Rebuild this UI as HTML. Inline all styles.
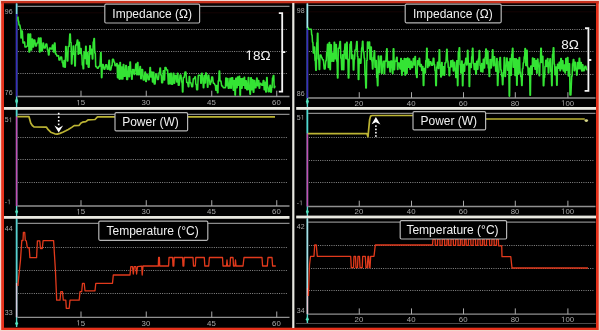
<!DOCTYPE html>
<html><head><meta charset="utf-8"><title>Impedance / Power / Temperature</title>
<style>
html,body{margin:0;padding:0;background:#000;width:600px;height:331px;overflow:hidden}
svg{will-change:transform}
svg text{font-family:"Liberation Sans",sans-serif}
.ax{fill:#a8a8a8}
.tt{font-size:12px;fill:#f0f0f0}
.big{font-size:13.5px;fill:#f4f4f4}
</style></head><body>
<svg width="600" height="331" viewBox="0 0 600 331" style="display:block">
<rect x="0" y="0" width="600" height="331" fill="#f4d6cf"/>
<rect x="1.2" y="1" width="597.5" height="329" fill="#e6321c"/>
<rect x="1.2" y="1" width="597.5" height="2.6" fill="#c8321e"/>
<rect x="4" y="3.5" width="592" height="324.2" fill="#000"/>
<rect x="4" y="3.5" width="592" height="1.2" fill="#120505"/>
<line x1="17.400000000000002" y1="6.3" x2="289.5" y2="6.3" stroke="#8a8a8a" stroke-width="1.2"/>
<line x1="18.1" y1="29.50" x2="287.5" y2="29.50" stroke="#8a8a8a" stroke-width="1" stroke-dasharray="1 1.25"/>
<line x1="18.1" y1="51.50" x2="287.5" y2="51.50" stroke="#8a8a8a" stroke-width="1" stroke-dasharray="1 1.25"/>
<line x1="18.1" y1="73.50" x2="287.5" y2="73.50" stroke="#8a8a8a" stroke-width="1" stroke-dasharray="1 1.25"/>
<line x1="17.400000000000002" y1="96.5" x2="289.5" y2="96.5" stroke="#909090" stroke-width="1.3"/>
<line x1="81" y1="90.7" x2="81" y2="96.5" stroke="#a8a8a8" stroke-width="1"/>
<text x="76.36" y="105.3" class="ax" font-size="7.8"> 5</text><path d="M78.32 105.30 L79.01 105.30 L79.01 99.93 L78.38 99.93 L77.11 100.81 L77.11 101.45 L78.32 100.59 Z" class="ax"/>
<line x1="146.25" y1="90.7" x2="146.25" y2="96.5" stroke="#a8a8a8" stroke-width="1"/>
<text x="141.61" y="105.3" class="ax" font-size="7.8">30</text>
<line x1="211.75" y1="90.7" x2="211.75" y2="96.5" stroke="#a8a8a8" stroke-width="1"/>
<text x="207.11" y="105.3" class="ax" font-size="7.8">45</text>
<line x1="276.75" y1="90.7" x2="276.75" y2="96.5" stroke="#a8a8a8" stroke-width="1"/>
<text x="272.11" y="105.3" class="ax" font-size="7.8">60</text>
<text x="4.80" y="13.5" class="ax" font-size="7">96</text>
<text x="4.80" y="95.4" class="ax" font-size="7">76</text>
<line x1="17.400000000000002" y1="114.4" x2="289.5" y2="114.4" stroke="#8a8a8a" stroke-width="1.2"/>
<line x1="18.1" y1="137.50" x2="287.5" y2="137.50" stroke="#8a8a8a" stroke-width="1" stroke-dasharray="1 1.25"/>
<line x1="18.1" y1="159.50" x2="287.5" y2="159.50" stroke="#8a8a8a" stroke-width="1" stroke-dasharray="1 1.25"/>
<line x1="18.1" y1="182.50" x2="287.5" y2="182.50" stroke="#8a8a8a" stroke-width="1" stroke-dasharray="1 1.25"/>
<line x1="17.400000000000002" y1="206" x2="289.5" y2="206" stroke="#909090" stroke-width="1.3"/>
<line x1="81" y1="200.2" x2="81" y2="206" stroke="#a8a8a8" stroke-width="1"/>
<text x="76.36" y="214.39999999999998" class="ax" font-size="7.8"> 5</text><path d="M78.32 214.40 L79.01 214.40 L79.01 209.03 L78.38 209.03 L77.11 209.91 L77.11 210.55 L78.32 209.69 Z" class="ax"/>
<line x1="146.25" y1="200.2" x2="146.25" y2="206" stroke="#a8a8a8" stroke-width="1"/>
<text x="141.61" y="214.39999999999998" class="ax" font-size="7.8">30</text>
<line x1="211.75" y1="200.2" x2="211.75" y2="206" stroke="#a8a8a8" stroke-width="1"/>
<text x="207.11" y="214.39999999999998" class="ax" font-size="7.8">45</text>
<line x1="276.75" y1="200.2" x2="276.75" y2="206" stroke="#a8a8a8" stroke-width="1"/>
<text x="272.11" y="214.39999999999998" class="ax" font-size="7.8">60</text>
<text x="4.80" y="122.2" class="ax" font-size="7">5 </text><path d="M10.45 122.20 L11.07 122.20 L11.07 117.38 L10.50 117.38 L9.37 118.17 L9.37 118.75 L10.45 117.97 Z" class="ax"/>
<text x="4.80" y="204.2" class="ax" font-size="7">- </text><path d="M8.89 204.20 L9.51 204.20 L9.51 199.38 L8.94 199.38 L7.80 200.17 L7.80 200.75 L8.89 199.97 Z" class="ax"/>
<line x1="17.400000000000002" y1="223.4" x2="289.5" y2="223.4" stroke="#8a8a8a" stroke-width="1.2"/>
<line x1="18.1" y1="247.50" x2="287.5" y2="247.50" stroke="#8a8a8a" stroke-width="1" stroke-dasharray="1 1.25"/>
<line x1="18.1" y1="270.50" x2="287.5" y2="270.50" stroke="#8a8a8a" stroke-width="1" stroke-dasharray="1 1.25"/>
<line x1="18.1" y1="293.50" x2="287.5" y2="293.50" stroke="#8a8a8a" stroke-width="1" stroke-dasharray="1 1.25"/>
<line x1="17.400000000000002" y1="317.3" x2="289.5" y2="317.3" stroke="#909090" stroke-width="1.3"/>
<line x1="81" y1="311.5" x2="81" y2="317.3" stroke="#a8a8a8" stroke-width="1"/>
<text x="76.36" y="325.5" class="ax" font-size="7.8"> 5</text><path d="M78.32 325.50 L79.01 325.50 L79.01 320.13 L78.38 320.13 L77.11 321.01 L77.11 321.65 L78.32 320.79 Z" class="ax"/>
<line x1="146.25" y1="311.5" x2="146.25" y2="317.3" stroke="#a8a8a8" stroke-width="1"/>
<text x="141.61" y="325.5" class="ax" font-size="7.8">30</text>
<line x1="211.75" y1="311.5" x2="211.75" y2="317.3" stroke="#a8a8a8" stroke-width="1"/>
<text x="207.11" y="325.5" class="ax" font-size="7.8">45</text>
<line x1="276.75" y1="311.5" x2="276.75" y2="317.3" stroke="#a8a8a8" stroke-width="1"/>
<text x="272.11" y="325.5" class="ax" font-size="7.8">60</text>
<text x="4.80" y="230.6" class="ax" font-size="7">44</text>
<text x="4.80" y="315.2" class="ax" font-size="7">33</text>
<line x1="308.2" y1="5.5" x2="595.5" y2="5.5" stroke="#8a8a8a" stroke-width="1.2"/>
<line x1="308.9" y1="29.50" x2="593.5" y2="29.50" stroke="#8a8a8a" stroke-width="1" stroke-dasharray="1 1.25"/>
<line x1="308.9" y1="51.50" x2="593.5" y2="51.50" stroke="#8a8a8a" stroke-width="1" stroke-dasharray="1 1.25"/>
<line x1="308.9" y1="74.50" x2="593.5" y2="74.50" stroke="#8a8a8a" stroke-width="1" stroke-dasharray="1 1.25"/>
<line x1="308.2" y1="98" x2="595.5" y2="98" stroke="#909090" stroke-width="1.3"/>
<line x1="359.25" y1="92.2" x2="359.25" y2="98" stroke="#a8a8a8" stroke-width="1"/>
<text x="354.61" y="105.7" class="ax" font-size="7.8">20</text>
<line x1="411.5" y1="92.2" x2="411.5" y2="98" stroke="#a8a8a8" stroke-width="1"/>
<text x="406.86" y="105.7" class="ax" font-size="7.8">40</text>
<line x1="463.5" y1="92.2" x2="463.5" y2="98" stroke="#a8a8a8" stroke-width="1"/>
<text x="458.86" y="105.7" class="ax" font-size="7.8">60</text>
<line x1="515.3" y1="92.2" x2="515.3" y2="98" stroke="#a8a8a8" stroke-width="1"/>
<text x="510.66" y="105.7" class="ax" font-size="7.8">80</text>
<line x1="567.9" y1="92.2" x2="567.9" y2="98" stroke="#a8a8a8" stroke-width="1"/>
<text x="561.09" y="105.7" class="ax" font-size="7.8"> 00</text><path d="M563.05 105.70 L563.74 105.70 L563.74 100.33 L563.11 100.33 L561.84 101.21 L561.84 101.85 L563.05 100.99 Z" class="ax"/>
<text x="296.80" y="12.6" class="ax" font-size="7">98</text>
<text x="296.80" y="95.6" class="ax" font-size="7">86</text>
<line x1="308.2" y1="113.4" x2="595.5" y2="113.4" stroke="#8a8a8a" stroke-width="1.2"/>
<line x1="308.9" y1="137.50" x2="593.5" y2="137.50" stroke="#8a8a8a" stroke-width="1" stroke-dasharray="1 1.25"/>
<line x1="308.9" y1="160.50" x2="593.5" y2="160.50" stroke="#8a8a8a" stroke-width="1" stroke-dasharray="1 1.25"/>
<line x1="308.9" y1="182.50" x2="593.5" y2="182.50" stroke="#8a8a8a" stroke-width="1" stroke-dasharray="1 1.25"/>
<line x1="308.2" y1="206.5" x2="595.5" y2="206.5" stroke="#909090" stroke-width="1.3"/>
<line x1="359.25" y1="200.7" x2="359.25" y2="206.5" stroke="#a8a8a8" stroke-width="1"/>
<text x="354.61" y="213.89999999999998" class="ax" font-size="7.8">20</text>
<line x1="411.5" y1="200.7" x2="411.5" y2="206.5" stroke="#a8a8a8" stroke-width="1"/>
<text x="406.86" y="213.89999999999998" class="ax" font-size="7.8">40</text>
<line x1="463.5" y1="200.7" x2="463.5" y2="206.5" stroke="#a8a8a8" stroke-width="1"/>
<text x="458.86" y="213.89999999999998" class="ax" font-size="7.8">60</text>
<line x1="515.3" y1="200.7" x2="515.3" y2="206.5" stroke="#a8a8a8" stroke-width="1"/>
<text x="510.66" y="213.89999999999998" class="ax" font-size="7.8">80</text>
<line x1="567.9" y1="200.7" x2="567.9" y2="206.5" stroke="#a8a8a8" stroke-width="1"/>
<text x="561.09" y="213.89999999999998" class="ax" font-size="7.8"> 00</text><path d="M563.05 213.90 L563.74 213.90 L563.74 208.53 L563.11 208.53 L561.84 209.41 L561.84 210.05 L563.05 209.19 Z" class="ax"/>
<text x="296.80" y="119.8" class="ax" font-size="7">5 </text><path d="M302.45 119.80 L303.07 119.80 L303.07 114.98 L302.50 114.98 L301.37 115.77 L301.37 116.35 L302.45 115.57 Z" class="ax"/>
<text x="296.80" y="205.2" class="ax" font-size="7">- </text><path d="M300.89 205.20 L301.51 205.20 L301.51 200.38 L300.94 200.38 L299.80 201.17 L299.80 201.75 L300.89 200.97 Z" class="ax"/>
<line x1="308.2" y1="222.2" x2="595.5" y2="222.2" stroke="#8a8a8a" stroke-width="1.2"/>
<line x1="308.9" y1="245.50" x2="593.5" y2="245.50" stroke="#8a8a8a" stroke-width="1" stroke-dasharray="1 1.25"/>
<line x1="308.9" y1="268.50" x2="593.5" y2="268.50" stroke="#8a8a8a" stroke-width="1" stroke-dasharray="1 1.25"/>
<line x1="308.9" y1="290.50" x2="593.5" y2="290.50" stroke="#8a8a8a" stroke-width="1" stroke-dasharray="1 1.25"/>
<line x1="308.2" y1="314.2" x2="595.5" y2="314.2" stroke="#909090" stroke-width="1.3"/>
<line x1="359.25" y1="308.4" x2="359.25" y2="314.2" stroke="#a8a8a8" stroke-width="1"/>
<text x="354.61" y="322.0" class="ax" font-size="7.8">20</text>
<line x1="411.5" y1="308.4" x2="411.5" y2="314.2" stroke="#a8a8a8" stroke-width="1"/>
<text x="406.86" y="322.0" class="ax" font-size="7.8">40</text>
<line x1="463.5" y1="308.4" x2="463.5" y2="314.2" stroke="#a8a8a8" stroke-width="1"/>
<text x="458.86" y="322.0" class="ax" font-size="7.8">60</text>
<line x1="515.3" y1="308.4" x2="515.3" y2="314.2" stroke="#a8a8a8" stroke-width="1"/>
<text x="510.66" y="322.0" class="ax" font-size="7.8">80</text>
<line x1="567.9" y1="308.4" x2="567.9" y2="314.2" stroke="#a8a8a8" stroke-width="1"/>
<text x="561.09" y="322.0" class="ax" font-size="7.8"> 00</text><path d="M563.05 322.00 L563.74 322.00 L563.74 316.63 L563.11 316.63 L561.84 317.51 L561.84 318.15 L563.05 317.29 Z" class="ax"/>
<text x="296.80" y="228.6" class="ax" font-size="7">42</text>
<text x="296.80" y="312.8" class="ax" font-size="7">34</text>
<line x1="18" y1="12.8" x2="289.5" y2="12.8" stroke="#140404" stroke-width="1"/>
<line x1="309" y1="11.8" x2="595.5" y2="11.8" stroke="#140404" stroke-width="1"/>
<line x1="16.6" y1="3.4" x2="16.6" y2="327" stroke="#58d8d0" stroke-width="1.4"/>
<line x1="307.4" y1="3.4" x2="307.4" y2="323.6" stroke="#58d8d0" stroke-width="1.4"/>
<line x1="16.6" y1="3.5" x2="16.6" y2="14" stroke="#7fd8e8" stroke-width="1.6"/>
<line x1="16.6" y1="14" x2="16.6" y2="96.5" stroke="#3c2cbc" stroke-width="1.6"/>
<line x1="16.6" y1="110" x2="16.6" y2="116.5" stroke="#50d8d0" stroke-width="1.6"/>
<line x1="16.6" y1="116.5" x2="16.6" y2="206" stroke="#c450b4" stroke-width="1.6"/>
<line x1="16.6" y1="219" x2="16.6" y2="283" stroke="#58d0d0" stroke-width="1.6"/>
<line x1="16.6" y1="283" x2="16.6" y2="317.3" stroke="#d4cce0" stroke-width="1.6"/>
<line x1="307.4" y1="3.5" x2="307.4" y2="28" stroke="#a8e8f0" stroke-width="1.6"/>
<line x1="307.4" y1="28" x2="307.4" y2="98" stroke="#3c2cbc" stroke-width="1.6"/>
<line x1="307.4" y1="110" x2="307.4" y2="133.4" stroke="#50d8d0" stroke-width="1.6"/>
<line x1="307.4" y1="133.4" x2="307.4" y2="206.5" stroke="#c450b4" stroke-width="1.6"/>
<line x1="307.4" y1="219" x2="307.4" y2="288" stroke="#a8e0e8" stroke-width="1.6"/>
<line x1="307.4" y1="288" x2="307.4" y2="314.2" stroke="#e8c8d4" stroke-width="1.6"/>
<path d="M16.6 96.7 L18.1 101 L16.6 105.3 L15.100000000000001 101 Z" fill="#54e4c0"/>
<path d="M16.6 208.8 L18.1 211.8 L16.6 214.8 L15.100000000000001 211.8 Z" fill="#54e4c0"/>
<path d="M16.6 320.6 L18.1 323.6 L16.6 326.6 L15.100000000000001 323.6 Z" fill="#54e4c0"/>
<path d="M307.4 97.8 L308.9 101.6 L307.4 105.39999999999999 L305.9 101.6 Z" fill="#54e4c0"/>
<path d="M307.4 208.8 L308.9 211.8 L307.4 214.8 L305.9 211.8 Z" fill="#54e4c0"/>
<path d="M307.4 316.3 L308.9 319.3 L307.4 322.3 L305.9 319.3 Z" fill="#54e4c0"/>
<rect x="4" y="107" width="286" height="2.8" fill="#e8e8e0"/>
<rect x="296.2" y="107" width="299.8" height="2.8" fill="#e8e8e0"/>
<rect x="4" y="216" width="285.5" height="2.8" fill="#e8e8e0"/>
<rect x="296.2" y="215.6" width="299.8" height="2.8" fill="#e8e8e0"/>
<rect x="292.2" y="3" width="2.2" height="325" fill="#e8e8e0"/>
<line x1="296" y1="323.5" x2="596" y2="323.5" stroke="#4a4a4a" stroke-width="1"/>
<polyline points="17.6,17.0 17.9,17.0 18.2,21.0 18.6,21.0 19.0,25.0 19.8,25.0 20.5,29.0 20.8,29.0 21.0,38.0 21.3,38.0 21.5,31.0 22.3,31.0 23.0,43.0 23.6,43.0 24.0,42.0 24.6,42.0 25.0,47.0 26.1,47.0 27.0,46.0 27.6,46.0 28.0,34.0 28.6,34.0 29.0,52.0 29.6,52.0 30.0,34.0 30.6,34.0 31.0,50.0 31.6,50.0 32.0,39.0 32.5,39.0 33.0,47.0 33.5,47.0 34.0,40.0 34.8,40.0 35.5,46.0 36.3,46.0 37.0,43.0 37.8,43.0 38.5,38.0 39.0,38.0 39.5,52.0 40.0,52.0 40.5,38.0 41.0,38.0 41.5,51.0 42.3,51.0 43.0,43.0 43.5,43.0 44.0,48.0 45.1,48.0 46.0,44.0 46.8,44.0 47.5,50.0 48.0,50.0 48.5,55.0 49.0,55.0 49.5,48.0 50.3,48.0 51.0,49.0 51.8,49.0 52.5,45.0 53.0,45.0 53.5,52.0 54.0,52.0 54.5,43.0 55.0,43.0 55.5,54.0 56.3,54.0 57.0,56.0 57.7,56.0 58.2,55.8 58.6,55.8 59.0,60.0 59.9,60.0 60.7,57.0 61.6,57.0 62.3,62.7 62.8,62.7 63.2,66.7 63.6,66.7 64.0,60.6 64.4,60.6 64.8,67.2 65.3,67.2 65.7,46.6 66.1,46.6 66.5,52.7 66.9,52.7 67.3,61.0 67.8,61.0 68.2,46.5 69.1,46.5 69.8,34.1 70.3,34.1 70.7,42.5 71.1,42.5 71.5,64.0 71.9,64.0 72.3,54.4 72.8,54.4 73.2,46.0 73.6,46.0 74.0,54.2 74.4,54.2 74.8,65.9 75.3,65.9 75.7,45.0 76.6,45.0 77.3,39.9 77.8,39.9 78.2,54.3 78.6,54.3 79.0,42.3 79.4,42.3 79.8,53.3 80.3,53.3 80.7,48.5 81.1,48.5 81.5,55.0 81.9,55.0 82.3,64.9 82.8,64.9 83.2,68.8 83.6,68.8 84.0,51.9 84.4,51.9 84.8,58.5 85.3,58.5 85.7,46.3 86.1,46.3 86.5,64.0 86.9,64.0 87.3,52.5 87.8,52.5 88.2,67.1 89.1,67.1 89.8,45.8 90.3,45.8 90.7,54.0 91.1,54.0 91.5,49.3 91.9,49.3 92.3,59.0 92.8,59.0 93.2,42.0 93.6,42.0 94.0,38.6 94.4,38.6 94.8,53.1 95.3,53.1 95.7,66.6 96.6,66.6 97.3,68.2 98.2,68.2 99.0,66.2 99.9,66.2 100.7,52.6 101.1,52.6 101.5,77.6 101.9,77.6 102.3,64.6 103.2,64.6 104.0,69.2 104.9,69.2 105.7,64.7 106.6,64.7 107.3,69.2 108.2,69.2 109.0,60.3 109.4,60.3 109.8,69.9 110.8,69.9 111.7,65.4 112.1,65.4 112.5,59.3 113.4,59.3 114.2,62.2 114.6,62.2 115.0,65.7 115.9,65.7 116.7,63.6 117.1,63.6 117.5,77.6 117.9,77.6 118.3,65.3 118.8,65.3 119.2,79.1 119.6,79.1 120.0,62.4 120.4,62.4 120.8,78.9 121.3,78.9 121.7,66.9 122.1,66.9 122.5,79.0 122.9,79.0 123.3,64.5 123.8,64.5 124.2,76.1 125.1,76.1 125.8,65.4 126.3,65.4 126.7,79.4 127.6,79.4 128.3,66.8 128.8,66.8 129.2,76.6 129.6,76.6 130.0,61.9 130.4,61.9 130.8,71.8 131.3,71.8 131.7,79.2 132.1,79.2 132.5,69.6 133.4,69.6 134.2,74.5 134.6,74.5 135.0,69.6 135.4,69.6 135.8,63.9 136.3,63.9 136.7,74.8 137.1,74.8 137.5,62.4 137.9,62.4 138.3,74.6 139.2,74.6 140.0,66.5 140.4,66.5 140.8,78.8 141.3,78.8 141.7,69.6 142.6,69.6 143.3,80.0 144.2,80.0 145.0,72.1 145.4,72.1 145.8,81.4 146.3,81.4 146.7,74.6 147.6,74.6 148.3,79.7 149.2,79.7 150.0,67.6 150.4,67.6 150.8,76.9 151.3,76.9 151.7,72.0 152.1,72.0 152.5,81.9 152.9,81.9 153.3,72.2 153.8,72.2 154.2,83.9 155.1,83.9 155.8,74.1 156.7,74.1 157.5,79.5 158.4,79.5 159.2,72.4 159.6,72.4 160.0,67.9 160.4,67.9 160.8,74.9 161.3,74.9 161.7,82.7 162.6,82.7 163.3,70.7 163.8,70.7 164.2,80.0 164.6,80.0 165.0,67.5 165.9,67.5 166.7,69.9 167.6,69.9 168.3,83.9 168.8,83.9 169.2,73.7 169.6,73.7 170.0,83.6 170.4,83.6 170.8,73.2 171.3,73.2 171.7,84.2 172.6,84.2 173.3,73.2 173.8,73.2 174.2,83.3 174.6,83.3 175.0,75.5 175.9,75.5 176.7,81.9 177.1,81.9 177.5,73.2 177.9,73.2 178.3,85.2 179.2,85.2 180.0,75.0 180.9,75.0 181.7,82.2 182.1,82.2 182.5,92.0 182.9,92.0 183.3,77.4 184.2,77.4 185.0,72.0 185.9,72.0 186.7,82.4 187.6,82.4 188.3,86.7 188.8,86.7 189.2,76.4 189.6,76.4 190.0,82.7 190.9,82.7 191.7,86.6 192.6,86.6 193.3,78.8 194.2,78.8 195.0,76.8 195.4,76.8 195.8,84.3 196.3,84.3 196.7,89.6 197.6,89.6 198.3,75.3 199.2,75.3 200.0,75.2 200.4,75.2 200.8,83.1 201.3,83.1 201.7,73.2 202.1,73.2 202.5,78.1 202.9,78.1 203.3,87.8 203.8,87.8 204.2,75.4 204.6,75.4 205.0,82.9 205.4,82.9 205.8,72.9 206.3,72.9 206.7,77.4 207.1,77.4 207.5,87.3 207.9,87.3 208.3,75.2 208.8,75.2 209.2,80.1 209.6,80.1 210.0,84.4 210.4,84.4 210.8,81.9 211.3,81.9 211.7,77.0 212.6,77.0 213.3,83.2 214.2,83.2 215.0,85.2 215.4,85.2 215.8,90.2 216.3,90.2 216.7,85.6 217.1,85.6 217.5,92.8 217.9,92.8 218.3,80.7 218.8,80.7 219.2,71.0 219.6,71.0 220.0,80.9 220.9,80.9 221.7,86.0 222.6,86.0 223.3,87.8 224.2,87.8 225.0,87.8 225.4,87.8 225.8,78.1 226.3,78.1 226.7,85.6 227.1,85.6 227.5,78.4 227.9,78.4 228.3,88.3 229.2,88.3 230.0,78.3 230.4,78.3 230.8,88.2 231.3,88.2 231.7,77.7 232.6,77.7 233.3,90.1 233.8,90.1 234.2,80.5 234.6,80.5 235.0,95.1 235.4,95.1 235.8,78.3 236.3,78.3 236.7,87.6 237.1,87.6 237.5,77.1 237.9,77.1 238.3,85.3 238.8,85.3 239.2,76.2 239.6,76.2 240.0,95.3 240.4,95.3 240.8,78.7 241.3,78.7 241.7,88.1 242.1,88.1 242.5,78.5 242.9,78.5 243.3,85.3 243.8,85.3 244.2,77.3 244.6,77.3 245.0,88.2 245.4,88.2 245.8,80.8 246.3,80.8 246.7,89.7 247.6,89.7 248.3,77.5 248.8,77.5 249.2,89.8 249.6,89.8 250.0,94.2 250.4,94.2 250.8,77.7 251.3,77.7 251.7,89.6 252.1,89.6 252.5,79.7 252.9,79.7 253.3,92.2 253.8,92.2 254.2,80.6 254.6,80.6 255.0,87.7 255.9,87.7 256.7,78.0 257.1,78.0 257.5,85.6 257.9,85.6 258.3,80.6 258.8,80.6 259.2,88.1 259.6,88.1 260.0,83.3 260.9,83.3 261.7,85.3 262.6,85.3 263.3,80.4 263.8,80.4 264.2,89.8 264.6,89.8 265.0,82.3 265.4,82.3 265.8,91.9 266.3,91.9 266.7,77.5 267.1,77.5 267.5,86.7 267.9,86.7 268.3,91.6 269.2,91.6 270.0,85.2 270.4,85.2 270.8,92.1 271.3,92.1 271.7,87.4 272.1,87.4 272.5,78.0 272.9,78.0 273.3,75.5 273.8,75.5 274.2,87.7 274.6,87.7 275.0,85.7" fill="none" stroke="#34e434" stroke-width="1.55" stroke-linejoin="round"/>
<polyline points="308.2,27.5 308.3,27.5 308.3,29.2 309.7,29.2 310.8,29.2 311.3,29.2 311.7,35.0 312.1,35.0 312.5,42.3 312.9,42.3 313.3,52.9 313.8,52.9 314.2,46.9 314.6,46.9 315.0,60.6 315.4,60.6 315.8,70.2 316.3,70.2 316.7,42.8 317.1,42.8 317.5,33.3 317.9,33.3 318.3,58.9 318.8,58.9 319.2,69.4 319.6,69.4 320.0,55.1 320.9,55.1 321.7,57.7 322.1,57.7 322.5,59.7 323.4,59.7 324.2,69.0 325.1,69.0 325.8,60.8 326.3,60.8 326.7,52.2 327.1,52.2 327.5,44.3 327.9,44.3 328.3,67.4 328.8,67.4 329.2,42.5 329.6,42.5 330.0,69.6 330.4,69.6 330.8,44.8 331.3,44.8 331.7,61.1 332.1,61.1 332.5,53.2 332.9,53.2 333.3,61.2 333.8,61.2 334.2,42.3 334.6,42.3 335.0,58.8 335.4,58.8 335.8,44.4 336.3,44.4 336.7,61.3 337.1,61.3 337.5,78.0 337.9,78.0 338.3,48.2 339.2,48.2 340.0,41.4 340.4,41.4 340.8,58.3 341.3,58.3 341.7,69.6 342.1,69.6 342.5,54.7 342.9,54.7 343.3,69.7 343.8,69.7 344.2,50.6 344.6,50.6 345.0,43.9 345.4,43.9 345.8,58.6 346.3,58.6 346.7,42.2 347.1,42.2 347.5,59.4 347.9,59.4 348.3,78.0 348.8,78.0 349.2,59.0 349.6,59.0 350.0,44.3 350.4,44.3 350.8,41.8 351.3,41.8 351.7,58.6 352.1,58.6 352.5,55.0 352.9,55.0 353.3,70.0 353.8,70.0 354.2,59.2 354.6,59.2 355.0,50.0 355.9,50.0 356.7,41.5 357.1,41.5 357.5,56.4 357.9,56.4 358.3,79.5 358.8,79.5 359.2,58.9 359.6,58.9 360.0,63.2 360.9,63.2 361.7,47.7 362.1,47.7 362.5,41.2 362.9,41.2 363.3,51.6 363.8,51.6 364.2,58.3 364.6,58.3 365.0,75.3 365.4,75.3 365.8,88.0 366.3,88.0 366.7,60.5 367.1,60.5 367.5,41.9 367.9,41.9 368.3,48.1 368.8,48.1 369.2,41.9 369.6,41.9 370.0,59.2 370.4,59.2 370.8,46.9 371.3,46.9 371.7,60.9 372.1,60.9 372.5,69.0 372.9,69.0 373.3,57.6 373.8,57.6 374.2,50.7 374.6,50.7 375.0,67.2 375.4,67.2 375.8,60.6 376.3,60.6 376.7,77.4 377.1,77.4 377.5,85.7 377.9,85.7 378.3,56.0 378.8,56.0 379.2,72.8 379.6,72.8 380.0,62.3 380.4,62.3 380.8,56.1 381.3,56.1 381.7,73.4 382.1,73.4 382.5,64.8 382.9,64.8 383.3,61.3 383.8,61.3 384.2,73.7 384.6,73.7 385.0,61.1 385.9,61.1 386.7,48.7 387.1,48.7 387.5,67.5 387.9,67.5 388.3,61.6 389.2,61.6 390.0,72.0 390.4,72.0 390.8,61.0 391.7,61.0 392.5,73.6 392.9,73.6 393.3,48.8 393.8,48.8 394.2,69.6 394.6,69.6 395.0,61.3 395.9,61.3 396.7,57.2 397.1,57.2 397.5,69.4 397.9,69.4 398.3,62.9 399.2,62.9 400.0,69.0 400.4,69.0 400.8,58.6 401.3,58.6 401.7,75.1 402.1,75.1 402.5,60.7 402.9,60.7 403.3,70.9 403.8,70.9 404.2,58.6 404.6,58.6 405.0,75.1 405.4,75.1 405.8,58.8 406.3,58.8 406.7,73.3 407.1,73.3 407.5,57.9 407.9,57.9 408.3,67.1 408.8,67.1 409.2,58.9 409.6,58.9 410.0,69.3 410.4,69.3 410.8,61.3 411.3,61.3 411.7,67.5 412.6,67.5 413.3,58.5 413.8,58.5 414.2,65.0 414.6,65.0 415.0,56.5 415.4,56.5 415.8,73.5 416.3,73.5 416.7,77.5 417.1,77.5 417.5,60.8 417.9,60.8 418.3,64.8 418.8,64.8 419.2,58.3 419.6,58.3 420.0,66.4 420.4,66.4 420.8,64.4 421.3,64.4 421.7,70.4 422.1,70.4 422.5,66.4 422.9,66.4 423.3,85.4 423.8,85.4 424.2,68.6 424.6,68.6 425.0,73.0 425.4,73.0 425.8,60.6 426.3,60.6 426.7,48.3 427.1,48.3 427.5,67.5 427.9,67.5 428.3,59.3 428.8,59.3 429.2,65.8 429.6,65.8 430.0,61.8 430.9,61.8 431.7,65.3 432.6,65.3 433.3,58.2 433.8,58.2 434.2,64.4 434.6,64.4 435.0,70.6 435.4,70.6 435.8,85.6 436.3,85.6 436.7,66.9 437.1,66.9 437.5,62.2 437.9,62.2 438.3,68.5 438.8,68.5 439.2,49.7 439.6,49.7 440.0,64.7 440.4,64.7 440.8,77.0 441.3,77.0 441.7,62.4 442.1,62.4 442.5,75.0 442.9,75.0 443.3,66.7 443.8,66.7 444.2,75.1 444.6,75.1 445.0,62.8 445.9,62.8 446.7,49.2 447.1,49.2 447.5,60.9 447.9,60.9 448.3,67.4 448.8,67.4 449.2,75.7 449.6,75.7 450.0,67.2 450.4,67.2 450.8,60.7 451.3,60.7 451.7,66.8 452.1,66.8 452.5,60.3 452.9,60.3 453.3,71.0 453.8,71.0 454.2,62.2 454.6,62.2 455.0,68.6 455.4,68.6 455.8,77.4 456.3,77.4 456.7,60.7 457.1,60.7 457.5,85.6 457.9,85.6 458.3,52.3 458.8,52.3 459.2,47.8 459.6,47.8 460.0,64.7 460.4,64.7 460.8,72.9 461.3,72.9 461.7,60.9 462.1,60.9 462.5,85.7 462.9,85.7 463.3,64.5 463.8,64.5 464.2,71.1 464.6,71.1 465.0,62.9 465.4,62.9 465.8,58.2 466.3,58.2 466.7,65.0 467.1,65.0 467.5,50.3 467.9,50.3 468.3,63.2 468.8,63.2 469.2,86.5 469.6,86.5 470.0,63.4 470.4,63.4 470.8,67.5 471.3,67.5 471.7,56.8 472.1,56.8 472.5,48.3 472.9,48.3 473.3,63.3 473.8,63.3 474.2,69.5 474.6,69.5 475.0,63.4 475.4,63.4 475.8,74.0 476.3,74.0 476.7,61.2 477.1,61.2 477.5,69.2 477.9,69.2 478.3,59.0 478.8,59.0 479.2,50.4 479.6,50.4 480.0,65.4 480.4,65.4 480.8,71.5 481.3,71.5 481.7,63.4 482.1,63.4 482.5,72.0 482.9,72.0 483.3,59.2 483.8,59.2 484.2,67.9 484.6,67.9 485.0,57.5 485.4,57.5 485.8,49.0 486.3,49.0 486.7,63.8 487.1,63.8 487.5,51.1 487.9,51.1 488.3,68.0 488.8,68.0 489.2,76.4 489.6,76.4 490.0,59.4 490.4,59.4 490.8,67.9 491.3,67.9 491.7,59.2 492.1,59.2 492.5,49.8 492.9,49.8 493.3,65.8 493.8,65.8 494.2,56.8 494.6,56.8 495.0,65.0 495.4,65.0 495.8,71.2 496.3,71.2 496.7,58.5 497.1,58.5 497.5,85.5 497.9,85.5 498.3,72.5 498.8,72.5 499.2,61.5 499.6,61.5 500.0,57.4 500.4,57.4 500.8,69.9 501.3,69.9 501.7,76.3 502.1,76.3 502.5,84.8 502.9,84.8 503.3,72.4 503.8,72.4 504.2,57.5 504.6,57.5 505.0,76.4 505.4,76.4 505.8,65.6 506.3,65.6 506.7,57.9 507.1,57.9 507.5,70.3 507.9,70.3 508.3,62.0 508.8,62.0 509.2,96.1 509.6,96.1 510.0,58.6 510.4,58.6 510.8,75.2 511.3,75.2 511.7,54.3 512.1,54.3 512.5,48.2 512.9,48.2 513.3,67.2 513.8,67.2 514.2,58.7 514.6,58.7 515.0,75.4 515.4,75.4 515.8,58.7 516.3,58.7 516.7,85.2 517.1,85.2 517.5,60.0 517.9,60.0 518.3,73.9 518.8,73.9 519.2,57.4 519.6,57.4 520.0,71.9 520.4,71.9 520.8,76.7 521.3,76.7 521.7,85.4 522.1,85.4 522.5,68.8 522.9,68.8 523.3,62.8 523.8,62.8 524.2,56.7 524.6,56.7 525.0,48.5 525.4,48.5 525.8,65.5 526.3,65.5 526.7,50.2 527.1,50.2 527.5,66.9 527.9,66.9 528.3,74.7 528.8,74.7 529.2,68.2 529.6,68.2 530.0,95.3 530.4,95.3 530.8,66.0 531.3,66.0 531.7,74.2 532.1,74.2 532.5,57.9 532.9,57.9 533.3,66.2 533.8,66.2 534.2,58.7 534.6,58.7 535.0,69.1 535.4,69.1 535.8,60.8 536.3,60.8 536.7,73.2 537.1,73.2 537.5,59.0 537.9,59.0 538.3,65.2 538.8,65.2 539.2,75.8 539.6,75.8 540.0,62.8 540.4,62.8 540.8,48.2 541.3,48.2 541.7,62.5 542.1,62.5 542.5,56.3 542.9,56.3 543.3,85.8 543.8,85.8 544.2,77.5 544.6,77.5 545.0,66.6 545.4,66.6 545.8,60.3 546.3,60.3 546.7,66.5 547.1,66.5 547.5,58.5 547.9,58.5 548.3,72.9 548.8,72.9 549.2,62.7 549.6,62.7 550.0,58.8 550.4,58.8 550.8,71.4 551.3,71.4 551.7,85.6 552.1,85.6 552.5,54.5 552.9,54.5 553.3,47.8 553.8,47.8 554.2,64.3 554.6,64.3 555.0,74.7 555.4,74.7 555.8,66.9 556.3,66.9 556.7,85.3 557.1,85.3 557.5,64.2 557.9,64.2 558.3,68.2 558.8,68.2 559.2,62.3 559.6,62.3 560.0,70.6 560.4,70.6 560.8,58.6 561.3,58.6 561.7,68.8 562.1,68.8 562.5,60.7 562.9,60.7 563.3,70.9 563.8,70.9 564.2,65.0 564.6,65.0 565.0,72.9 565.4,72.9 565.8,58.4 566.3,58.4 566.7,70.1 567.1,70.1 567.5,57.6 567.9,57.6 568.3,76.0 568.8,76.0 569.2,63.8 569.6,63.8 570.0,94.9 570.9,94.9 571.7,76.1 572.1,76.1 572.5,63.8 572.9,63.8 573.3,59.4 573.8,59.4 574.2,70.6 574.6,70.6 575.0,62.2 575.4,62.2 575.8,68.9 576.3,68.9 576.7,75.1 577.1,75.1 577.5,62.5 577.9,62.5 578.3,68.8 578.8,68.8 579.2,58.3 579.6,58.3 580.0,68.7 580.4,68.7 580.8,62.6 581.3,62.6 581.7,70.9 582.1,70.9 582.5,64.7 582.9,64.7 583.3,70.6 584.2,70.6 585.0,66.3 585.9,66.3 586.7,70.3" fill="none" stroke="#34e434" stroke-width="1.55" stroke-linejoin="round"/>
<polyline points="17.3,116.7 29.0,116.7 30.7,123.0 32.3,125.5 34.0,126.9 46.5,127.2 48.2,129.7 50.7,132.2 54.8,133.8 57.3,134.1 60.0,133.4 63.3,132.0 65.8,130.8 68.3,129.5 71.7,127.4 74.2,125.6 79.2,125.3 81.0,123.0 82.5,122.2 85.8,121.6 88.3,119.8 95.0,119.5 97.5,116.9 114.0,116.9 275.0,116.9" fill="none" stroke="#bcb434" stroke-width="1.7" stroke-linejoin="round"/>
<polyline points="308.0,133.6 366.9,133.6 368.0,136.7 369.6,119.8 370.6,116.1 372.2,115.5 440.0,115.5 460.0,119.0 584.8,119.0" fill="none" stroke="#bcb434" stroke-width="1.7" stroke-linejoin="round"/>
<polyline points="17.9,286.0 18.6,278.0 20.5,260.0 21.8,240.5 23.0,240.5 23.4,232.3 24.7,232.3 25.3,240.5 26.3,240.8 27.3,247.5 29.2,247.8 29.9,257.6 36.6,257.6 37.4,240.8 39.8,240.8 40.5,248.5 42.3,248.5 43.1,240.6 53.6,240.6 55.4,270.0 56.7,300.2 60.0,300.2 60.8,291.7 62.5,291.7 63.3,300.2 65.8,300.2 66.3,308.3 69.2,308.3 70.0,300.2 79.2,300.2 80.0,291.7 81.7,291.7 82.5,283.3 84.2,283.3 85.0,290.8 95.0,290.8 95.8,283.3 112.5,283.3 113.3,275.0 130.0,275.0 130.8,266.7 132.5,266.7 133.3,274.0 134.2,266.7 135.8,266.7 136.6,274.0 137.5,266.7 141.7,266.2 142.2,275.0 143.0,266.0 158.5,266.0 143.0,266.0 158.3,266.0 158.6,257.5 159.4,257.5 159.7,266.0 168.6,266.0 169.0,257.5 172.6,257.5 173.0,266.0 173.8,266.0 174.2,257.5 182.6,257.5 183.0,266.0 183.8,266.0 184.2,257.5 193.0,257.5 193.5,266.0 195.3,266.0 195.8,257.5 204.3,257.5 204.8,266.0 208.7,266.0 209.4,257.5 222.5,257.5 223.0,266.0 226.5,266.0 227.0,260.0 227.5,266.0 230.0,266.0 230.5,257.5 233.0,257.5 233.5,266.0 235.0,266.0 235.5,260.0 236.0,266.0 243.0,266.0 244.0,257.5 262.0,257.5 262.6,266.0 267.3,266.0 268.0,257.5 272.0,257.5 272.6,266.0 275.8,266.0" fill="none" stroke="#e23a1c" stroke-width="1.3" stroke-linejoin="round"/>
<polyline points="308.4,296.0 309.5,265.0 310.5,256.3 314.0,256.3 314.7,245.0 316.3,245.0 317.3,256.3 350.7,256.3 351.3,267.7 353.5,267.7 354.0,256.3 355.5,256.3 356.0,267.7 357.5,267.7 358.0,256.3 359.5,256.3 360.0,267.7 362.2,267.7 362.7,256.3 365.3,256.3 366.0,267.7 367.3,267.7 368.0,256.3 368.7,256.3 369.3,267.7 370.0,267.7 370.7,256.3 374.0,256.3 375.3,245.0 432.5,245.0 433.0,239.2 435.2,239.2 435.3,245.3 437.5,245.3 437.6,239.2 439.9,239.2 440.0,245.3 442.2,245.3 442.3,239.2 444.6,239.2 444.7,245.3 446.9,245.3 447.0,239.2 448.6,239.2 448.7,245.3 450.9,245.3 451.0,239.2 453.3,239.2 453.4,245.3 455.6,245.3 455.7,239.2 458.0,239.2 458.1,245.3 460.3,245.3 460.4,239.2 462.1,239.2 462.2,245.3 464.4,245.3 464.5,239.2 466.1,239.2 466.2,245.3 468.4,245.3 468.5,239.2 470.8,239.2 470.9,245.3 473.1,245.3 473.2,239.2 475.5,239.2 475.6,245.3 477.8,245.3 477.9,239.2 480.1,239.2 480.2,245.3 482.4,245.3 482.5,239.2 484.2,239.2 484.3,245.3 486.5,245.3 486.6,239.2 489.5,239.2 489.6,245.3 491.8,245.3 491.9,239.2 494.1,239.2 494.2,245.3 496.4,245.3 496.5,239.2 498.3,239.2 498.6,245.8 501.7,245.8 502.0,256.7 510.8,256.7 512.0,268.0 588.0,268.0" fill="none" stroke="#e23a1c" stroke-width="1.3" stroke-linejoin="round"/>
<ellipse cx="586.3" cy="120.6" rx="1.8" ry="1.3" fill="#d8d888"/>
<path d="M278.8 13.2 H282.2 V91.6 H278.8 M282.2 52.2 H285.3" fill="none" stroke="#f4f4f4" stroke-width="1.8"/>
<path d="M585 28.2 H588.4 V90.8 H584.6 M588.4 60 H591.3" fill="none" stroke="#f4f4f4" stroke-width="1.8"/>
<text x="245.40" y="59.9" class="big" font-size="13.5"> 8Ω</text><path d="M248.79 59.90 L249.99 59.90 L249.99 50.61 L248.89 50.61 L246.70 52.12 L246.70 53.24 L248.79 51.75 Z" class="big"/>
<text x="561.3" y="49.3" class="big" font-size="13.5">8Ω</text>
<rect x="57.900000000000006" y="112.8" width="1.6" height="1.6" fill="#fff"/><rect x="57.900000000000006" y="116.4" width="1.6" height="1.6" fill="#fff"/><rect x="57.900000000000006" y="120.0" width="1.6" height="1.6" fill="#fff"/><rect x="57.900000000000006" y="123.60000000000001" width="1.6" height="1.6" fill="#fff"/>
<path d="M54.4 125.4 L58.7 128.0 L63.1 125.4 L58.7 132.6 Z" fill="#fff"/>
<rect x="375.09999999999997" y="125.3" width="1.6" height="1.6" fill="#fff"/><rect x="375.09999999999997" y="128.6" width="1.6" height="1.6" fill="#fff"/><rect x="375.09999999999997" y="131.89999999999998" width="1.6" height="1.6" fill="#fff"/><rect x="375.09999999999997" y="135.2" width="1.6" height="1.6" fill="#fff"/>
<path d="M371.6 124.2 L375.9 122.2 L380.4 124.4 L375.9 116.9 Z" fill="#fff"/>
<rect x="104.8" y="4.2" width="94.79999999999998" height="18.8" rx="1.2" fill="#000" stroke="#b4b4b4" stroke-width="1.2"/>
<text x="152.2" y="17.9" text-anchor="middle" class="tt">Impedance (Ω)</text>
<rect x="405.20000000000005" y="4.2" width="95.99999999999999" height="18.599999999999998" rx="1.2" fill="#000" stroke="#b4b4b4" stroke-width="1.2"/>
<text x="452.8" y="18.1" text-anchor="middle" class="tt">Impedance (Ω)</text>
<rect x="115.0" y="112.69999999999999" width="72.59999999999998" height="18.200000000000006" rx="1.2" fill="#000" stroke="#b4b4b4" stroke-width="1.2"/>
<text x="150.5" y="125.7" text-anchor="middle" class="tt">Power (W)</text>
<rect x="413.0" y="111.69999999999999" width="72.60000000000001" height="18.200000000000006" rx="1.2" fill="#000" stroke="#b4b4b4" stroke-width="1.2"/>
<text x="448.8" y="124.7" text-anchor="middle" class="tt">Power (W)</text>
<rect x="98.8" y="221.1" width="109.0" height="19.200000000000006" rx="1.2" fill="#000" stroke="#b4b4b4" stroke-width="1.2"/>
<text x="152.6" y="235.0" text-anchor="middle" class="tt">Temperature (°C)</text>
<rect x="400.20000000000005" y="220.7" width="106.39999999999996" height="18.3" rx="1.2" fill="#000" stroke="#b4b4b4" stroke-width="1.2"/>
<text x="452.5" y="234.2" text-anchor="middle" class="tt">Temperature (°C)</text>
</svg>
</body></html>
